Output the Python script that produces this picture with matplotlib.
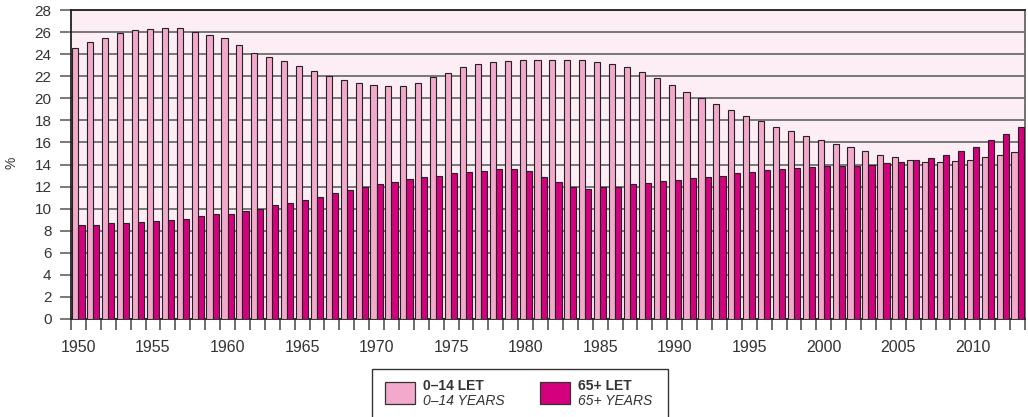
import numpy as np
import matplotlib
matplotlib.use('Agg')
import matplotlib.pyplot as plt
from matplotlib.patches import Rectangle

"""Share of population aged 0-14 and 65+ by year"""

years = list(range(1950, 2014))

young = [24.6, 25.1, 25.5, 25.9, 26.2, 26.3, 26.4, 26.4, 26.0, 25.7,
         25.5, 24.8, 24.1, 23.7, 23.4, 22.9, 22.5, 22.0, 21.7, 21.4,
         21.2, 21.1, 21.1, 21.4, 21.9, 22.3, 22.8, 23.1, 23.3, 23.4,
         23.5, 23.5, 23.5, 23.5, 23.5, 23.3, 23.1, 22.8, 22.4, 21.8,
         21.2, 20.6, 20.0, 19.5, 18.9, 18.4, 17.9, 17.4, 17.0, 16.6,
         16.2, 15.9, 15.6, 15.2, 14.9, 14.7, 14.4, 14.2, 14.2, 14.3,
         14.4, 14.7, 14.9, 15.1]

old = [8.5, 8.5, 8.7, 8.7, 8.8, 8.9, 9.0, 9.1, 9.3, 9.5,
       9.5, 9.8, 10.0, 10.3, 10.5, 10.8, 11.1, 11.4, 11.7, 12.0,
       12.2, 12.4, 12.7, 12.9, 13.0, 13.2, 13.3, 13.4, 13.6, 13.6,
       13.4, 12.9, 12.4, 12.0, 11.8, 12.0, 12.0, 12.2, 12.3, 12.5,
       12.6, 12.8, 12.9, 13.0, 13.2, 13.3, 13.5, 13.6, 13.7, 13.8,
       13.9, 13.9, 13.9, 14.0, 14.1, 14.2, 14.4, 14.6, 14.9, 15.2,
       15.6, 16.2, 16.8, 17.4]

label_years = [1950, 1955, 1960, 1965, 1970, 1975, 1980, 1985, 1990, 1995, 2000, 2005, 2010]

PINK = '#f3a9cb'
MAGENTA = '#d5007d'
BG = '#fdedf4'
GRID = '#6e6e6e'
TEXT = '#333333'

plt.rcParams['font.family'] = ['Liberation Sans', 'DejaVu Sans']

fig = plt.figure(figsize=(10.28, 4.17), dpi=100)
ax = fig.add_axes([71 / 1028, 98 / 417, 954 / 1028, 309 / 417])
ax.set_facecolor(BG)

x = np.arange(len(years))
w = 0.41
ax.bar(x - 0.205, young, width=w, color=PINK, edgecolor='#222222', linewidth=0.8, zorder=3)
ax.bar(x + 0.205, old, width=w, color=MAGENTA, edgecolor='#222222', linewidth=0.8, zorder=3)

ax.set_xlim(-0.5, len(years) - 0.5)
ax.set_ylim(0, 28)

# y axis
ax.set_yticks(range(0, 29, 2))
ax.yaxis.grid(True, color=GRID, linewidth=1.3, zorder=1)
ax.tick_params(axis='y', length=8, width=1.3, color=GRID, pad=6, labelsize=11, labelcolor=TEXT)

# x axis: ticks on category boundaries, labels centred on the years
ax.set_xticks(np.arange(len(years) + 1) - 0.5)
ax.set_xticklabels([])
ax.tick_params(axis='x', which='major', length=8, width=1.1, color='#444444', direction='out')
ax.set_xticks([years.index(y) for y in label_years], minor=True)
ax.set_xticklabels([str(y) for y in label_years], minor=True)
ax.tick_params(axis='x', which='minor', length=0, pad=15, labelsize=11.5, labelcolor=TEXT)

for side in ['left', 'bottom', 'top', 'right']:
    ax.spines[side].set_color('#222222')
    ax.spines[side].set_linewidth(1.3)
ax.spines['right'].set_color('#666666')

fig.text(11 / 1028, 1 - 163 / 417, '%', rotation=90, ha='center', va='center',
         fontsize=10, color=TEXT)

# legend box, drawn by hand so each entry can have a bold and an italic line
fig.patches.append(Rectangle((372 / 1028, -0.05), 296 / 1028, 1 - 369 / 417 + 0.05,
                             transform=fig.transFigure, facecolor='white',
                             edgecolor='#333333', linewidth=1.0))
entries = [(PINK, '0–14 LET', '0–14 YEARS', 385), (MAGENTA, '65+ LET', '65+ YEARS', 540)]
for color, bold, italic, px in entries:
    fig.patches.append(Rectangle((px / 1028, 1 - 404 / 417), 30 / 1028, 22 / 417,
                                 transform=fig.transFigure, facecolor=color,
                                 edgecolor='#333333', linewidth=0.9))
    fig.text((px + 38) / 1028, 1 - 386 / 417, bold, fontsize=10, fontweight='bold',
             color=TEXT, va='center', ha='left')
    fig.text((px + 38) / 1028, 1 - 401 / 417, italic, fontsize=10, fontstyle='italic',
             color=TEXT, va='center', ha='left')

fig.savefig('out.png', dpi=100)
